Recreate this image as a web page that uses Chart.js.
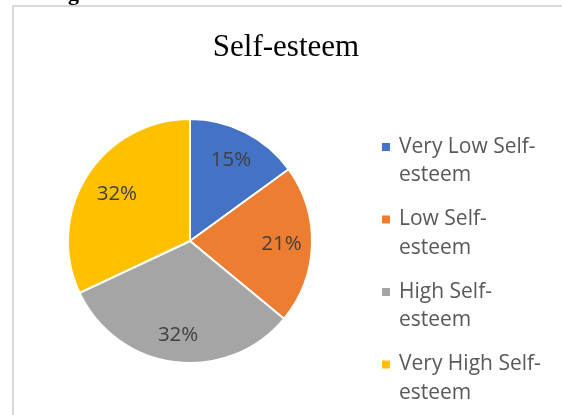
<!DOCTYPE html>
<html>
<head>
<meta charset="utf-8">
<script src="https://cdn.jsdelivr.net/npm/chart.js@4.4.1/dist/chart.umd.min.js"></script>
<style>
  html, body { margin: 0; padding: 0; background: #ffffff; }
  #wrap { width: 562px; height: 415px; position: relative; }
</style>
</head>
<body>
<div id="wrap"><canvas id="c" width="562" height="415"></canvas></div>
<script>
const categories = ["Very Low Self-esteem", "Low Self-esteem", "High Self-esteem", "Very High Self-esteem"];
const percentValues = [15, 21, 32, 32];
const sliceColors = ["#4472C4", "#ED7D31", "#A5A5A5", "#FFC000"];
const chartTitle = "Self-esteem";

const labelRadiusFactor = [0.74, 0.75, 0.78, 0.71];

const decorPlugin = {
  id: 'decor',
  afterDraw(chart) {
    const ctx = chart.ctx;
    ctx.save();
    // frame
    ctx.fillStyle = '#d9d9d9';
    ctx.fillRect(12, 5, 2, 420);
    ctx.fillRect(12, 5, 560, 2);
    // cut-off caption glyph at the top
    ctx.fillStyle = '#000000';
    ctx.font = 'bold 22px "Liberation Serif"';
    ctx.textBaseline = 'alphabetic';
    ctx.textAlign = 'left';
    ctx.fillText('g', 68, 0);
    // title
    ctx.font = '31px "Liberation Serif"';
    ctx.textAlign = 'center';
    ctx.fillText(chartTitle, 286, 56);

    // data labels
    const meta = chart.getDatasetMeta(0);
    ctx.font = '20.5px "Open Sans"';
    ctx.fillStyle = '#404040';
    ctx.textBaseline = 'middle';
    meta.data.forEach((arc, i) => {
      const p = arc.getProps(['x', 'y', 'startAngle', 'endAngle', 'outerRadius'], true);
      const mid = (p.startAngle + p.endAngle) / 2;
      const r = p.outerRadius * labelRadiusFactor[i];
      ctx.fillText(chart.data.datasets[0].data[i] + '%', p.x + Math.cos(mid) * r, p.y + Math.sin(mid) * r);
    });

    // legend
    ctx.font = '21px "Open Sans"';
    ctx.textAlign = 'left';
    const legendX = 399, firstY = 147, itemGap = 72.5, lineGap = 28.5, maxW = 148;
    chart.data.labels.forEach((lab, i) => {
      const tokens = lab.split(/(?<=[- ])/);
      const lines = [];
      let cur = '';
      tokens.forEach(t => {
        if (cur && ctx.measureText((cur + t).trimEnd()).width > maxW) { lines.push(cur.trimEnd()); cur = t; }
        else cur += t;
      });
      if (cur) lines.push(cur.trimEnd());
      const y0 = firstY + i * itemGap;
      ctx.fillStyle = chart.data.datasets[0].backgroundColor[i];
      ctx.fillRect(382, y0 - 4, 8, 8);
      ctx.fillStyle = '#595959';
      lines.forEach((ln, j) => ctx.fillText(ln, legendX, y0 + j * lineGap));
    });
    ctx.restore();
  }
};

new Chart(document.getElementById('c'), {
  type: 'pie',
  data: {
    labels: categories,
    datasets: [{
      data: percentValues,
      backgroundColor: sliceColors,
      borderColor: '#ffffff',
      borderWidth: 2
    }]
  },
  options: {
    responsive: false,
    animation: false,
    layout: { padding: { left: 67, right: 249, top: 118, bottom: 51 } },
    plugins: {
      legend: { display: false },
      title: { display: false },
      tooltip: { enabled: false }
    }
  },
  plugins: [decorPlugin]
});
</script>
</body>
</html>
